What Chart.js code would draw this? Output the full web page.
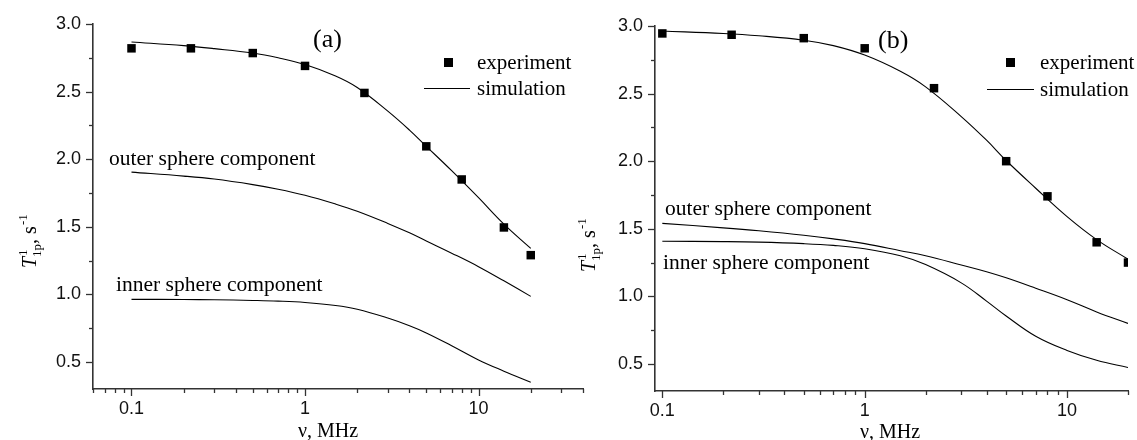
<!DOCTYPE html>
<html><head><meta charset="utf-8">
<script src="https://cdn.jsdelivr.net/npm/chart.js@4.4.1/dist/chart.umd.min.js"></script>
<style>
html,body{margin:0;padding:0;background:#fff;width:1137px;height:440px;overflow:hidden;}
#wa{position:absolute;left:0;top:0;width:600px;height:440px;}
#wb{position:absolute;left:560px;top:0;width:577px;height:440px;}
</style></head><body>
<div id="wa"><canvas id="ca"></canvas></div>
<div id="wb"><canvas id="cb"></canvas></div>
<script>
// ---- data ----
const xTickLabels = ['0.1', '1', '10'];
const yTickLabels = ['0.5', '1.0', '1.5', '2.0', '2.5', '3.0'];
const yMinorTicks = [0.75, 1.25, 1.75, 2.25, 2.75];

const expX = [0.1, 0.22, 0.5, 1, 2.2, 5, 8, 14, 20];
const expA = [2.82, 2.82, 2.785, 2.69, 2.49, 2.095, 1.85, 1.495, 1.29];
const expB = [2.945, 2.935, 2.91, 2.835, 2.54, 2.0, 1.74, 1.40, 1.25];

const curveX = [0.1, 0.2, 0.3, 0.5, 0.7, 1, 1.5, 2, 3, 4, 5, 7, 10, 14, 20];
const simA   = [2.867, 2.840, 2.818, 2.785, 2.750, 2.700, 2.615, 2.530, 2.355, 2.215, 2.095, 1.915, 1.715, 1.520, 1.340];
const outerA = [1.904, 1.875, 1.853, 1.812, 1.778, 1.733, 1.668, 1.615, 1.525, 1.455, 1.395, 1.305, 1.205, 1.100, 0.985];
const innerA = [0.963, 0.962, 0.960, 0.955, 0.950, 0.940, 0.918, 0.890, 0.825, 0.768, 0.715, 0.620, 0.515, 0.432, 0.350];
const simB   = [2.963, 2.945, 2.928, 2.895, 2.855, 2.785, 2.665, 2.550, 2.330, 2.155, 2.005, 1.800, 1.590, 1.420, 1.275];
const outerB = [1.540, 1.507, 1.485, 1.452, 1.425, 1.390, 1.338, 1.300, 1.232, 1.182, 1.137, 1.060, 0.975, 0.885, 0.800];
const innerB = [1.408, 1.405, 1.401, 1.390, 1.377, 1.352, 1.300, 1.235, 1.100, 0.965, 0.855, 0.705, 0.600, 0.527, 0.474];

const legendLabels = ['experiment', 'simulation'];
const outerLabel = 'outer sphere component';
const innerLabel = 'inner sphere component';
const xTitle = 'ν, MHz';

// ---- helpers ----
const SERIF = '"Liberation Serif", "Times New Roman", serif';
const SANS = '"Liberation Sans", Arial, sans-serif';
const AXIS = '#333';

function logTicks(min, max) {
  const out = [];
  for (let e = -3; e <= 3; e++) {
    for (let m = 1; m <= 9; m++) {
      const v = +(m * Math.pow(10, e)).toPrecision(6);
      if (v >= min * 0.9999 && v <= max * 1.0001) out.push(v);
    }
  }
  return out;
}
const isXMajor = v => xTickLabels.some(l => Math.abs(parseFloat(l) - v) < 1e-9);
function xLabel(v) { const l = xTickLabels.find(t => Math.abs(parseFloat(t) - v) < 1e-9); return l || ''; }
function yLabel(v) { const l = yTickLabels.find(t => Math.abs(parseFloat(t) - v) < 1e-9); return l || ''; }
const pts = (xs, ys) => xs.map((x, i) => ({x: x, y: ys[i]}));

const decor = {
  id: 'decor',
  afterDraw(chart) {
    const o = chart.options.plugins.decor;
    const ctx = chart.ctx, ca = chart.chartArea;
    const xs = chart.scales.x, ys = chart.scales.y;
    ctx.save();
    // tick marks
    ctx.strokeStyle = AXIS; ctx.lineWidth = 1.3;
    xs.ticks.forEach(t => {
      const px = Math.round(xs.getPixelForValue(t.value)) + 0.5;
      const len = isXMajor(t.value) ? 7 : 4;
      ctx.beginPath(); ctx.moveTo(px, ca.bottom); ctx.lineTo(px, ca.bottom + len); ctx.stroke();
    });
    ys.ticks.forEach(t => {
      const py = Math.round(ys.getPixelForValue(t.value)) + 0.5;
      const len = yLabel(t.value) ? 7 : 4;
      ctx.beginPath(); ctx.moveTo(ca.left, py); ctx.lineTo(ca.left - len, py); ctx.stroke();
    });
    // texts
    ctx.fillStyle = '#000';
    ctx.textBaseline = 'alphabetic';
    ctx.font = '26px ' + SERIF; ctx.textAlign = 'left';
    ctx.fillText(o.tag, o.tagPos[0], o.tagPos[1]);
    ctx.font = '21.5px ' + SERIF;
    ctx.fillText(outerLabel, o.outerPos[0], o.outerPos[1]);
    ctx.fillText(innerLabel, o.innerPos[0], o.innerPos[1]);
    // legend
    const L = o.legend;
    ctx.font = '21px ' + SERIF;
    ctx.fillRect(L.marker[0] - 4.5, L.marker[1] - 4.5, 9, 9);
    ctx.fillText(legendLabels[0], L.text[0], L.text[1]);
    ctx.strokeStyle = '#000'; ctx.lineWidth = 1;
    ctx.beginPath(); ctx.moveTo(L.line[0], L.line[2] + 0.5); ctx.lineTo(L.line[1], L.line[2] + 0.5); ctx.stroke();
    ctx.fillText(legendLabels[1], L.text[0], L.text[1] + L.gap);
    // x title
    ctx.font = '20px ' + SERIF; ctx.textAlign = 'center';
    ctx.fillText(xTitle, o.xTitlePos[0], o.xTitlePos[1]);
    // y title (rotated)
    ctx.translate(o.yTitlePos[0], o.yTitlePos[1]);
    ctx.rotate(-Math.PI / 2);
    ctx.textAlign = 'left';
    let x = 0;
    ctx.font = 'italic 20px ' + SERIF; ctx.fillText('T', x, 0); x += ctx.measureText('T').width + 1;
    ctx.font = '13px ' + SERIF;
    ctx.fillText('1', x, -9);
    const w1 = ctx.measureText('1').width;
    ctx.fillText('1p', x - 1, 5);
    x += Math.max(w1, ctx.measureText('1p').width) - 1;
    ctx.font = '20px ' + SERIF; ctx.fillText(', s', x, 0); x += ctx.measureText(', s').width + 1;
    ctx.font = '13px ' + SERIF; ctx.fillText('-1', x, -9);
    ctx.restore();
  }
};

function makeChart(id, p) {
  const line = {pointRadius: 0, borderColor: '#000', borderWidth: 1.1, tension: 0.4};
  return new Chart(document.getElementById(id), {
    type: 'line',
    data: {
      datasets: [
        {label: legendLabels[0], data: pts(expX, p.exp), showLine: false, pointStyle: 'rect',
         pointRadius: 6, pointHoverRadius: 6, backgroundColor: '#000', borderColor: '#000', borderWidth: 0},
        Object.assign({label: legendLabels[1], data: pts(curveX, p.sim)}, line),
        Object.assign({label: outerLabel, data: pts(curveX, p.outer)}, line),
        Object.assign({label: innerLabel, data: pts(curveX, p.inner)}, line)
      ]
    },
    options: {
      responsive: true, maintainAspectRatio: false, animation: false, events: [],
      layout: {padding: {left: 0, top: p.top, right: p.right, bottom: 0}},
      plugins: {legend: {display: false}, tooltip: {enabled: false}, decor: p.decor},
      scales: {
        x: {
          type: 'logarithmic', min: p.xMin, max: p.xMax,
          afterBuildTicks: s => { s.ticks = logTicks(p.xMin, p.xMax).map(v => ({value: v, major: isXMajor(v)})); },
          afterFit: s => { s.height = p.xHeight; },
          grid: {display: false, drawTicks: false},
          border: {display: true, color: AXIS, width: 1.6},
          ticks: {autoSkip: false, maxRotation: 0, padding: 9, color: '#111',
                  font: {family: SANS, size: 18}, callback: v => xLabel(v)}
        },
        y: {
          type: 'linear', min: 0.3, max: 3.0,
          afterBuildTicks: s => {
            const vals = yTickLabels.map(parseFloat).concat(yMinorTicks).sort((a, b) => a - b);
            s.ticks = vals.map(v => ({value: v}));
          },
          afterFit: s => { s.width = p.yWidth; },
          grid: {display: false, drawTicks: false},
          border: {display: true, color: AXIS, width: 1.6},
          ticks: {autoSkip: false, padding: 12, color: '#111',
                  font: {family: SANS, size: 18}, callback: v => yLabel(v)}
        }
      }
    },
    plugins: [decor]
  });
}

makeChart('ca', {
  exp: expA, sim: simA, outer: outerA, inner: innerA,
  xMin: 0.06, xMax: 40, top: 24, right: 17, yWidth: 93, xHeight: 51,
  decor: {tag: '(a)', tagPos: [313, 47], outerPos: [109, 165], innerPos: [116, 291],
          legend: {marker: [448.5, 62.5], text: [477, 69], line: [424, 470, 88], gap: 26},
          xTitlePos: [328, 437], yTitlePos: [36, 268]}
});
makeChart('cb', {
  exp: expB, sim: simB, outer: outerB, inner: innerB,
  xMin: 0.092, xMax: 20, top: 26, right: 2, yWidth: 95, xHeight: 49,
  decor: {tag: '(b)', tagPos: [318, 48], outerPos: [105, 215], innerPos: [103, 269],
          legend: {marker: [450.5, 62.5], text: [480, 69], line: [427, 474, 89], gap: 27},
          xTitlePos: [330, 438], yTitlePos: [35, 272]}
});
</script>
</body></html>
